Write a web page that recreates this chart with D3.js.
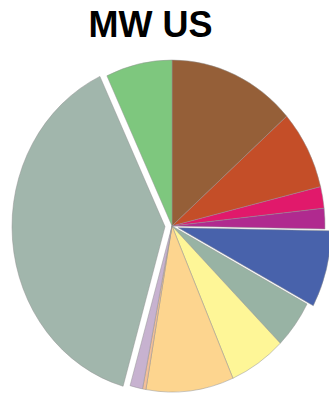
<!DOCTYPE html>
<html>
<head>
<meta charset="utf-8">
<script src="https://cdn.jsdelivr.net/npm/d3@7/dist/d3.min.js"></script>
<style>
  html, body { margin: 0; padding: 0; background: #fff; }
  svg { display: block; }
</style>
</head>
<body>
<svg id="chart" width="329" height="394"></svg>
<script>
// Share of installed MW by source (percent), clockwise from 12 o'clock
const categories = ["Source A", "Source B", "Source C", "Source D", "Source E", "Source F",
                    "Source G", "Source H", "Source I", "Source J", "Source K", "Source L"];
const values = [13.5, 7.7, 2.1, 2.0, 7.5, 4.7, 6.0, 9.25, 0.36, 1.33, 38.6, 7.0];
const colors = ["#955f38", "#c44e28", "#e1196b", "#b02a8f", "#4862ab", "#98b3a4",
                "#fef697", "#fdd58f", "#f3bf98", "#c7b2d0", "#a1b6ac", "#7ec77e"];
const exploded = ["Source E", "Source K"];
const title = "MW US";

const svg = d3.select("#chart");

svg.append("text")
  .attr("x", 150.5)
  .attr("y", 37)
  .attr("text-anchor", "middle")
  .attr("font-family", "'Liberation Sans', Arial, sans-serif")
  .attr("font-weight", "bold")
  .attr("font-size", 36)
  .attr("fill", "#000")
  .text(title);

const radius = 166;
const cx = 172, cy = 226;
const sx = 153 / 166;   // pie is drawn slightly narrower than tall

const data = categories.map((c, i) => ({ cat: c, value: values[i], color: colors[i] }));

const pie = d3.pie().sort(null).value(d => d.value);
const arc = d3.arc().innerRadius(0).outerRadius(radius);

const g = svg.append("g")
  .attr("transform", `translate(${cx},${cy}) scale(${sx},1)`);

const explodeDist = { "Source E": 7, "Source K": 7.6 };

g.selectAll("path")
  .data(pie(data))
  .join("path")
  .attr("d", arc)
  .attr("fill", d => d.data.color)
  .attr("stroke", "#8f8f8f")
  .attr("stroke-width", 0.5)
  .attr("transform", d => {
    if (!exploded.includes(d.data.cat)) return null;
    const mid = (d.startAngle + d.endAngle) / 2;
    const k = explodeDist[d.data.cat];
    return `translate(${k * Math.sin(mid)},${-k * Math.cos(mid)})`;
  });
</script>
</body>
</html>
